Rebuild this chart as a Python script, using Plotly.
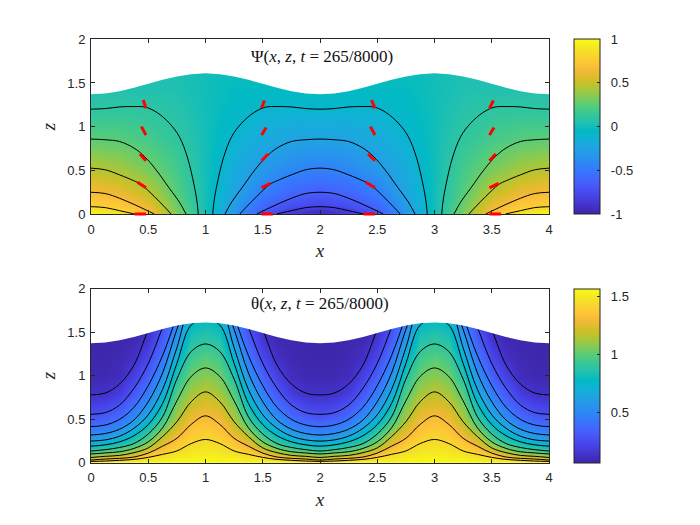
import plotly.graph_objects as go

# parula stops
parula_rgb = [(.2422, .1504, .6603), (.2647, .1978, .7952), (.2783, .2559, .8991), (.2810, .3228, .9579),
              (.2699, .3892, .9906), (.2206, .4603, .9973), (.1786, .5289, .9682), (.1540, .5902, .9218),
              (.1248, .6459, .8883), (.0689, .6948, .8394), (.0067, .7312, .7660), (.1408, .7584, .6842),
              (.2161, .7843, .5923), (.3406, .8008, .4789), (.5044, .7993, .3480), (.6720, .7793, .2227),
              (.8203, .7498, .1535), (.9393, .7288, .2100), (.9970, .7659, .2199), (.9786, .8386, .1766),
              (.9597, .9135, .1423), (.9769, .9839, .0805)]
parula = [[i / (len(parula_rgb) - 1), 'rgb(%d,%d,%d)' % (c[0] * 255, c[1] * 255, c[2] * 255)]
          for i, c in enumerate(parula_rgb)]

psi_x = [0, .25, .5, .75, 1, 1.25, 1.5, 1.75, 2, 2.25, 2.5, 2.75, 3, 3.25, 3.5, 3.75, 4]
psi_rows = [0, .1, .25, .5, .85, 1.2, 1.4, 1.65]
psi_grid = [
    [1, .88, .69, .33, 0, -.33, -.69, -.88, -1, -.88, -.69, -.33, 0, .33, .69, .88, 1],
    [.785, .735, .6, .28, 0, -.28, -.6, -.735, -.785, -.735, -.6, -.28, 0, .28, .6, .735, .785],
    [.65, .6, .47, .23, 0, -.23, -.47, -.6, -.65, -.6, -.47, -.23, 0, .23, .47, .6, .65],
    [.47, .42, .32, .18, 0, -.18, -.32, -.42, -.47, -.42, -.32, -.18, 0, .18, .32, .42, .47],
    [.255, .24, .19, .115, 0, -.115, -.19, -.24, -.255, -.24, -.19, -.115, 0, .115, .19, .24, .255],
    [.1, .11, .1, .06, 0, -.06, -.1, -.11, -.1, -.11, -.1, -.06, 0, .06, .1, .11, .1],
    [.04, .05, .05, .04, 0, -.04, -.05, -.05, -.04, -.05, -.05, -.04, 0, .04, .05, .05, .04],
    [0, 0, .02, .02, 0, -.02, -.02, 0, 0, 0, -.02, -.02, 0, .02, .02, 0, 0],
]

# top of the fluid layer
surface_x = [0, .125, .25, .375, .5, .625, .75, .875, 1, 1.125, 1.25, 1.375, 1.5, 1.625, 1.75, 1.875, 2,
             2.125, 2.25, 2.375, 2.5, 2.625, 2.75, 2.875, 3, 3.125, 3.25, 3.375, 3.5, 3.625, 3.75, 3.875, 4]
surface_z = [1.37, 1.379, 1.405, 1.444, 1.49, 1.536, 1.575, 1.601, 1.61, 1.601, 1.575, 1.536, 1.49, 1.444, 1.405, 1.379, 1.37,
             1.379, 1.405, 1.444, 1.49, 1.536, 1.575, 1.601, 1.61, 1.601, 1.575, 1.536, 1.49, 1.444, 1.405, 1.379, 1.37]

theta_rows = [0, .015, .03, .06, .1, .134, .19, .25, .32, .42, .55, .78, 1, 1.2, 1.4, 1.65]
theta_grid = [
    [1.57] * 33,
    [1.44, 1.47, 1.5, 1.53, 1.54, 1.55, 1.56, 1.56, 1.565, 1.56, 1.56, 1.55, 1.54, 1.53, 1.5, 1.47, 1.44, 1.47, 1.5, 1.53, 1.54, 1.55, 1.56, 1.56, 1.565, 1.56, 1.56, 1.55, 1.54, 1.53, 1.5, 1.47, 1.44],
    [1.31, 1.37, 1.41, 1.47, 1.5, 1.53, 1.55, 1.55, 1.56, 1.55, 1.55, 1.53, 1.5, 1.47, 1.41, 1.37, 1.31, 1.37, 1.41, 1.47, 1.5, 1.53, 1.55, 1.55, 1.56, 1.55, 1.55, 1.53, 1.5, 1.47, 1.41, 1.37, 1.31],
    [1.18, 1.23, 1.27, 1.33, 1.44, 1.48, 1.52, 1.53, 1.54, 1.53, 1.52, 1.48, 1.44, 1.33, 1.27, 1.23, 1.18, 1.23, 1.27, 1.33, 1.44, 1.48, 1.52, 1.53, 1.54, 1.53, 1.52, 1.48, 1.44, 1.33, 1.27, 1.23, 1.18],
    [1.05, 1.1, 1.13, 1.22, 1.33, 1.44, 1.49, 1.51, 1.52, 1.51, 1.49, 1.44, 1.33, 1.22, 1.13, 1.1, 1.05, 1.1, 1.13, 1.22, 1.33, 1.44, 1.49, 1.51, 1.52, 1.51, 1.49, 1.44, 1.33, 1.22, 1.13, 1.1, 1.05],
    [.92, .98, 1.03, 1.13, 1.25, 1.38, 1.45, 1.49, 1.51, 1.49, 1.45, 1.38, 1.25, 1.13, 1.03, .98, .92, .98, 1.03, 1.13, 1.25, 1.38, 1.45, 1.49, 1.51, 1.49, 1.45, 1.38, 1.25, 1.13, 1.03, .98, .92],
    [.79, .83, .89, .99, 1.13, 1.3, 1.4, 1.46, 1.48, 1.46, 1.4, 1.3, 1.13, .99, .89, .83, .79, .83, .89, .99, 1.13, 1.3, 1.4, 1.46, 1.48, 1.46, 1.4, 1.3, 1.13, .99, .89, .83, .79],
    [.66, .69, .78, .88, 1.03, 1.24, 1.36, 1.43, 1.45, 1.43, 1.36, 1.24, 1.03, .88, .78, .69, .66, .69, .78, .88, 1.03, 1.24, 1.36, 1.43, 1.45, 1.43, 1.36, 1.24, 1.03, .88, .78, .69, .66],
    [.53, .56, .65, .785, .93, 1.16, 1.29, 1.39, 1.42, 1.39, 1.29, 1.16, .93, .785, .65, .56, .53, .56, .65, .785, .93, 1.16, 1.29, 1.39, 1.42, 1.39, 1.29, 1.16, .93, .785, .65, .56, .53],
    [.4, .43, .5, .65, .82, 1.02, 1.21, 1.34, 1.37, 1.34, 1.21, 1.02, .82, .65, .5, .43, .4, .43, .5, .65, .82, 1.02, 1.21, 1.34, 1.37, 1.34, 1.21, 1.02, .82, .65, .5, .43, .4],
    [.27, .3, .37, .5, .66, .9, 1.12, 1.27, 1.31, 1.27, 1.12, .9, .66, .5, .37, .3, .27, .3, .37, .5, .66, .9, 1.12, 1.27, 1.31, 1.27, 1.12, .9, .66, .5, .37, .3, .27],
    [.14, .145, .2, .32, .47, .72, 1, 1.14, 1.19, 1.14, 1, .72, .47, .32, .2, .145, .14, .145, .2, .32, .47, .72, 1, 1.14, 1.19, 1.14, 1, .72, .47, .32, .2, .145, .14],
    [.09, .09, .11, .205, .34, .56, .87, 1.04, 1.09, 1.04, .87, .56, .34, .205, .11, .09, .09, .09, .11, .205, .34, .56, .87, 1.04, 1.09, 1.04, .87, .56, .34, .205, .11, .09, .09],
    [.075, .075, .09, .13, .24, .44, .74, .95, 1, .95, .74, .44, .24, .13, .09, .075, .075, .075, .09, .13, .24, .44, .74, .95, 1, .95, .74, .44, .24, .13, .09, .075, .075],
    [.07, .07, .08, .09, .16, .34, .6, .865, .9, .865, .6, .34, .16, .09, .08, .07, .07, .07, .08, .09, .16, .34, .6, .865, .9, .865, .6, .34, .16, .09, .08, .07, .07],
    [.07, .07, .07, .07, .1, .24, .46, .76, .78, .76, .46, .24, .1, .07, .07, .07, .07, .07, .07, .07, .1, .24, .46, .76, .78, .76, .46, .24, .1, .07, .07, .07, .07],
]

# psi contour lines, None splits the arcs
psi_c1_x = [0, .125, .25, .375, .48, .582, .684, .77, .844, .9, .925, .937, None,
            1.063, 1.075, 1.1, 1.156, 1.23, 1.316, 1.418, 1.52, 1.625, 1.75, 1.875, 2, 2.125, 2.25, 2.375, 2.48, 2.582, 2.684, 2.77, 2.844, 2.9, 2.925, 2.937, None,
            3.063, 3.075, 3.1, 3.156, 3.23, 3.316, 3.418, 3.52, 3.625, 3.75, 3.875, 4]
psi_c1_z = [1.2, 1.207, 1.226, 1.23, 1.222, 1.157, 1.04, .889, .64, .333, .15, 0, None,
            0, .15, .333, .64, .889, 1.04, 1.157, 1.222, 1.23, 1.226, 1.207, 1.2, 1.207, 1.226, 1.23, 1.222, 1.157, 1.04, .889, .64, .333, .15, 0, None,
            0, .15, .333, .64, .889, 1.04, 1.157, 1.222, 1.23, 1.226, 1.207, 1.2]
psi_c2_x = [0, .125, .25, .375, .466, .568, .684, .77, .83, None,
            1.17, 1.23, 1.316, 1.432, 1.534, 1.625, 1.75, 1.875, 2, 2.125, 2.25, 2.375, 2.466, 2.568, 2.684, 2.77, 2.83, None,
            3.17, 3.23, 3.316, 3.432, 3.534, 3.625, 3.75, 3.875, 4]
psi_c2_z = [.858, .85, .83, .755, .66, .506, .295, .14, 0, None,
            0, .14, .295, .506, .66, .755, .83, .85, .858, .85, .83, .755, .66, .506, .295, .14, 0, None,
            0, .14, .295, .506, .66, .755, .83, .85, .858]
psi_c3_x = [0, .125, .25, .375, .437, .553, .64, .7, None,
            1.3, 1.36, 1.447, 1.563, 1.625, 1.75, 1.875, 2, 2.125, 2.25, 2.375, 2.437, 2.553, 2.64, 2.7, None,
            3.3, 3.36, 3.447, 3.563, 3.625, 3.75, 3.875, 4]
psi_c3_z = [.525, .506, .448, .38, .34, .2, .084, 0, None,
            0, .084, .2, .34, .38, .448, .506, .525, .506, .448, .38, .34, .2, .084, 0, None,
            0, .084, .2, .34, .38, .448, .506, .525]
psi_c4_x = [0, .125, .25, .375, .48, .553, None,
            1.447, 1.52, 1.625, 1.75, 1.875, 2, 2.125, 2.25, 2.375, 2.48, 2.553, None,
            3.447, 3.52, 3.625, 3.75, 3.875, 4]
psi_c4_z = [.249, .234, .18, .11, .046, 0, None,
            0, .046, .11, .18, .234, .249, .234, .18, .11, .046, 0, None,
            0, .046, .11, .18, .234, .249]
psi_c5_x = [0, .125, .25, .38, None, 1.62, 1.75, 1.875, 2, 2.125, 2.25, 2.38, None, 3.62, 3.75, 3.875, 4]
psi_c5_z = [.084, .073, .038, 0, None, 0, .038, .073, .084, .073, .038, 0, None, 0, .038, .073, .084]

# red dashes
dash_x = [.406, .48, None, .427, .48, None, .44, .48, None, .456, .48, None,
          1.49, 1.567, None, 1.49, 1.547, None, 1.49, 1.53, None, 1.49, 1.515, None,
          2.4, 2.48, None, 2.42, 2.48, None, 2.44, 2.48, None, 2.45, 2.48, None,
          3.48, 3.56, None, 3.48, 3.535, None, 3.48, 3.52, None, 3.48, 3.515]
dash_z = [.363, .3, None, .687, .61, None, 1, .905, None, 1.305, 1.21, None,
          .3, .35, None, .61, .687, None, .905, .99, None, 1.21, 1.3, None,
          .363, .3, None, .687, .61, None, 1, .905, None, 1.305, 1.21, None,
          .3, .35, None, .61, .687, None, .905, .99, None, 1.21, 1.3]
floor_dash_x = [[.38, .48], [1.49, 1.59], [2.38, 2.48], [3.48, 3.58]]

# theta contour lines (heights above the surface are hidden by the white mask)
theta_lines = [
    [.778, .8, .904, 1.12, 1.53, 1.9, 2.3, 2.5, 2.6, 2.5, 2.3, 1.9, 1.53, 1.12, .904, .8, .778, .8, .904, 1.12, 1.53, 1.9, 2.3, 2.5, 2.6, 2.5, 2.3, 1.9, 1.53, 1.12, .904, .8, .778],
    [.556, .575, .663, .854, 1.14, 1.555, 2, 2.3, 2.4, 2.3, 2, 1.555, 1.14, .854, .663, .575, .556, .575, .663, .854, 1.14, 1.555, 2, 2.3, 2.4, 2.3, 2, 1.555, 1.14, .854, .663, .575, .556],
    [.414, .433, .498, .636, .885, 1.23, 1.68, 2.1, 2.2, 2.1, 1.68, 1.23, .885, .636, .498, .433, .414, .433, .498, .636, .885, 1.23, 1.68, 2.1, 2.2, 2.1, 1.68, 1.23, .885, .636, .498, .433, .414],
    [.318, .335, .385, .49, .7, 1.03, 1.53, 1.95, 2.05, 1.95, 1.53, 1.03, .7, .49, .385, .335, .318, .335, .385, .49, .7, 1.03, 1.53, 1.95, 2.05, 1.95, 1.53, 1.03, .7, .49, .385, .335, .318],
    [.248, .262, .305, .395, .55, .84, 1.32, 1.8, 1.85, 1.8, 1.32, .84, .55, .395, .305, .262, .248, .262, .305, .395, .55, .84, 1.32, 1.8, 1.85, 1.8, 1.32, .84, .55, .395, .305, .262, .248],
    [.19, .205, .24, .31, .437, .68, 1.14, 1.58, 1.64, 1.58, 1.14, .68, .437, .31, .24, .205, .19, .205, .24, .31, .437, .68, 1.14, 1.58, 1.64, 1.58, 1.14, .68, .437, .31, .24, .205, .19],
    [.134, .15, .175, .22, .33, .527, .96, 1.276, 1.363, 1.276, .96, .527, .33, .22, .175, .15, .134, .15, .175, .22, .33, .527, .96, 1.276, 1.363, 1.276, .96, .527, .33, .22, .175, .15, .134],
    [.1, .112, .126, .164, .24, .4, .71, .99, 1.088, .99, .71, .4, .24, .164, .126, .112, .1, .112, .126, .164, .24, .4, .71, .99, 1.088, .99, .71, .4, .24, .164, .126, .112, .1],
    [.06, .073, .084, .115, .17, .3, .47, .7, .813, .7, .47, .3, .17, .115, .084, .073, .06, .073, .084, .115, .17, .3, .47, .7, .813, .7, .47, .3, .17, .115, .084, .073, .06],
    [.03, .042, .05, .065, .11, .19, .28, .44, .538, .44, .28, .19, .11, .065, .05, .042, .03, .042, .05, .065, .11, .19, .28, .44, .538, .44, .28, .19, .11, .065, .05, .042, .03],
    [.015, .019, .027, .038, .061, .096, .135, .22, .267, .22, .135, .096, .061, .038, .027, .019, .015, .019, .027, .038, .061, .096, .135, .22, .267, .22, .135, .096, .061, .038, .027, .019, .015],
]

x_ticks = [0, .5, 1, 1.5, 2, 2.5, 3, 3.5, 4]
x_labels = ['0', '0.5', '1', '1.5', '2', '2.5', '3', '3.5', '4']
z_ticks = [0, .5, 1, 1.5, 2]
z_labels = ['0', '0.5', '1', '1.5', '2']
psi_cticks = [-1, -.5, 0, .5, 1]
psi_clabels = ['-1', '-0.5', '0', '0.5', '1']
theta_cticks = [.5, 1, 1.5]
theta_clabels = ['0.5', '1', '1.5']

W, H = 700, 525
# the page body has an 8px margin
OFF = 8
INK = '#262626'
top_dom = [1 - (214 - OFF) / H, 1 - (39.3 - OFF) / H]
bot_dom = [1 - (462.7 - OFF) / H, 1 - (288.5 - OFF) / H]
x_dom = [(91 - OFF) / W, (549 - OFF) / W]

fig = go.Figure()

fig.add_trace(go.Heatmap(x=psi_x, y=psi_rows, z=psi_grid, coloraxis='coloraxis', zsmooth='best',
                         hoverinfo='skip', xaxis='x', yaxis='y'))
fig.add_trace(go.Heatmap(x=surface_x, y=theta_rows, z=theta_grid, coloraxis='coloraxis2', zsmooth='best',
                         hoverinfo='skip', xaxis='x2', yaxis='y2'))

for cx, cz in [(psi_c1_x, psi_c1_z), (psi_c2_x, psi_c2_z), (psi_c3_x, psi_c3_z),
               (psi_c4_x, psi_c4_z), (psi_c5_x, psi_c5_z)]:
    fig.add_trace(go.Scatter(x=cx, y=cz, mode='lines', line=dict(color='black', width=1, shape='spline'),
                             xaxis='x', yaxis='y'))
for line in theta_lines:
    fig.add_trace(go.Scatter(x=surface_x, y=line, mode='lines', line=dict(color='black', width=1, shape='spline'),
                             xaxis='x2', yaxis='y2'))

# white above the surface
for xa, ya in [('x', 'y'), ('x2', 'y2')]:
    fig.add_trace(go.Scatter(x=surface_x + [4, 0], y=surface_z + [2, 2], mode='none', fill='toself',
                             fillcolor='white', xaxis=xa, yaxis=ya))

fig.add_trace(go.Scatter(x=dash_x, y=dash_z, mode='lines', line=dict(color='#ff0000', width=3),
                         xaxis='x', yaxis='y'))

shapes = [dict(type='line', xref='x', yref='paper', x0=d[0], x1=d[1], y0=top_dom[0], y1=top_dom[0],
               line=dict(color='#ff0000', width=3), layer='above') for d in floor_dash_x]


def x_axis(anchor):
    return dict(domain=x_dom, range=[0, 4], anchor=anchor, tickvals=x_ticks, ticktext=x_labels, ticks='inside',
                ticklen=4, tickwidth=1, tickcolor=INK, showline=True, linecolor=INK, linewidth=1, mirror='ticks',
                ticklabelstandoff=3, showgrid=False, zeroline=False,
                tickfont=dict(family='Liberation Sans', size=13, color=INK),
                title=dict(text='<i>x</i>', standoff=8, font=dict(family='Liberation Serif', size=19, color=INK)))


def z_axis(anchor, dom):
    return dict(domain=dom, range=[0, 2], anchor=anchor, tickvals=z_ticks, ticktext=z_labels, ticks='inside',
                ticklen=4, tickwidth=1, tickcolor=INK, showline=True, linecolor=INK, linewidth=1, mirror='ticks',
                ticklabelstandoff=2, showgrid=False, zeroline=False,
                tickfont=dict(family='Liberation Sans', size=13, color=INK),
                title=dict(text='<i>z</i>', standoff=6, font=dict(family='Liberation Serif', size=19, color=INK)))


def bar(dom, vals, labels):
    return dict(x=(574.3 - OFF) / W, xanchor='left', xpad=0, ypad=0, thickness=26.4, thicknessmode='pixels',
                y=dom[0], yanchor='bottom', len=dom[1] - dom[0], lenmode='fraction',
                tickmode='array', tickvals=vals, ticktext=['\u00a0\u00a0' + t for t in labels],
                ticks='inside', ticklen=3, tickcolor=INK, outlinecolor=INK, outlinewidth=1,
                tickfont=dict(family='Liberation Sans', size=13, color=INK))


title_font = dict(family='Liberation Serif', size=17, color='#111111')
title_args = '(<i>x</i>, <i>z</i>, <i>t</i> = 265/8000)'

fig.update_layout(
    width=W, height=H, margin=dict(l=0, r=0, t=0, b=0, autoexpand=False), paper_bgcolor='white', plot_bgcolor='white',
    showlegend=False, shapes=shapes,
    xaxis=x_axis('y'), yaxis=z_axis('x', top_dom),
    xaxis2=x_axis('y2'), yaxis2=z_axis('x2', bot_dom),
    coloraxis=dict(colorscale=parula, cmin=-1, cmax=1, colorbar=bar(top_dom, psi_cticks, psi_clabels)),
    coloraxis2=dict(colorscale=parula, cmin=.066, cmax=1.5708, colorbar=bar(bot_dom, theta_cticks, theta_clabels)),
    annotations=[
        dict(text='Ψ' + title_args, x=2.02, y=1.8, xref='x', yref='y', showarrow=False, font=title_font),
        dict(text='θ' + title_args, x=2, y=1.83, xref='x2', yref='y2', showarrow=False, font=title_font),
    ],
)

fig.write_html("out.html")
